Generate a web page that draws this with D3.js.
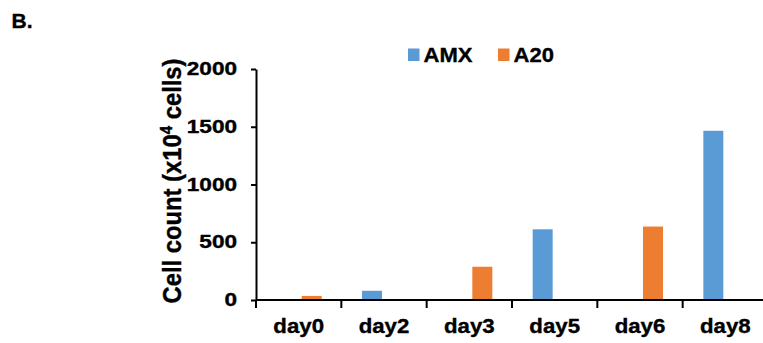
<!DOCTYPE html>
<html>
<head>
<meta charset="utf-8">
<script src="https://cdn.jsdelivr.net/npm/d3@7"></script>
<style>
  body { margin: 0; background: #fff; }
  text { font-family: "Liberation Sans", Arial, sans-serif; font-weight: bold; fill: #000; stroke: #000; stroke-width: 0.35px; }
</style>
</head>
<body>
<svg id="chart" width="763" height="343"></svg>
<script>
// data
var days = ['day0', 'day2', 'day3', 'day5', 'day6', 'day8'];
var series = ['AMX', 'A20'];
var amx = [5, 80, 0, 612, 0, 1465];
var a20 = [35, 0, 288, 0, 636, 0];
var yTicks = [0, 500, 1000, 1500, 2000];
var colors = ['#5B9BD5', '#ED7D31'];

var rows = days.map(function(d, i) {
  return {day: d, AMX: amx[i], A20: a20[i]};
});

var svg = d3.select('#chart');
svg.append('rect').attr('width', 763).attr('height', 343).attr('fill', '#fff');

// the picture is a bit wider than tall text would be, stretch text to match
function stretch(sel, k) {
  sel.each(function() {
    var w = this.getComputedTextLength();
    d3.select(this).attr('textLength', w * k).attr('lengthAdjust', 'spacingAndGlyphs');
  });
}

var x = d3.scaleBand().domain(days).range([256, 768]);
var x1 = d3.scaleBand().domain(series).range([-22, 23]).paddingInner(0.2);
var y = d3.scaleLinear().domain([0, 2000]).range([300, 69]);

// bars
var groups = svg.append('g')
  .selectAll('g')
  .data(rows)
  .join('g')
  .attr('transform', function(d) { return 'translate(' + (x(d.day) + x.bandwidth() / 2) + ',0)'; });

groups.selectAll('rect')
  .data(function(d) { return series.map(function(s, i) { return {key: s, value: d[s], i: i}; }); })
  .join('rect')
  .attr('x', function(d) { return x1(d.key); })
  .attr('width', x1.bandwidth())
  .attr('y', function(d) { return y(d.value); })
  .attr('height', function(d) { return y(0) - y(d.value); })
  .attr('fill', function(d) { return colors[d.i]; });

// y axis
var yAxis = svg.append('g')
  .attr('transform', 'translate(256,0)')
  .call(d3.axisLeft(y).tickValues(yTicks).tickFormat(d3.format('d'))
    .tickSize(5).tickSizeOuter(0).tickPadding(14));
yAxis.select('.domain').attr('stroke-width', 2);
yAxis.selectAll('.tick line').attr('stroke-width', 2);
yAxis.selectAll('text').style('font-size', '17.5px').attr('fill', '#000').call(stretch, 1.29);

// x axis: labels from the axis, tick marks on the band edges
var xAxis = svg.append('g')
  .attr('transform', 'translate(0,300)')
  .call(d3.axisBottom(x).tickSize(0).tickPadding(19));
xAxis.select('.domain').remove();
xAxis.selectAll('text').style('font-size', '19.5px').attr('fill', '#000').call(stretch, 1.14);

svg.append('line')
  .attr('x1', 256).attr('x2', 763)
  .attr('y1', 300).attr('y2', 300)
  .attr('stroke', '#000').attr('stroke-width', 2);

svg.append('g')
  .selectAll('line')
  .data(days)
  .join('line')
  .attr('x1', function(d) { return x(d); })
  .attr('x2', function(d) { return x(d); })
  .attr('y1', 300).attr('y2', 308)
  .attr('stroke', '#000').attr('stroke-width', 2);

// y title
svg.append('g')
  .attr('transform', 'translate(181,181) scale(1.16,1) rotate(-90)')
  .append('text')
  .attr('text-anchor', 'middle')
  .style('font-size', '22px')
  .attr('textLength', 245)
  .attr('lengthAdjust', 'spacingAndGlyphs')
  .call(function(t) {
    t.append('tspan').text('Cell count (x10');
    t.append('tspan').attr('baseline-shift', 'super').style('font-size', '14px').text('4');
    t.append('tspan').text(' cells)');
  });

// legend
var legendX = [408, 498];
var legend = svg.append('g')
  .selectAll('g')
  .data(series)
  .join('g')
  .attr('transform', function(d, i) { return 'translate(' + legendX[i] + ',0)'; });

legend.append('rect')
  .attr('y', 48.5).attr('width', 11.5).attr('height', 12.5)
  .attr('fill', function(d, i) { return colors[i]; });

legend.append('text')
  .attr('x', 15.5).attr('y', 61.8)
  .style('font-size', '21px')
  .text(function(d) { return d; })
  .call(stretch, 1.05);

// panel letter
svg.append('text')
  .attr('x', 11.5).attr('y', 28)
  .style('font-size', '20px')
  .text('B.')
  .call(stretch, 1.05);
</script>
</body>
</html>
